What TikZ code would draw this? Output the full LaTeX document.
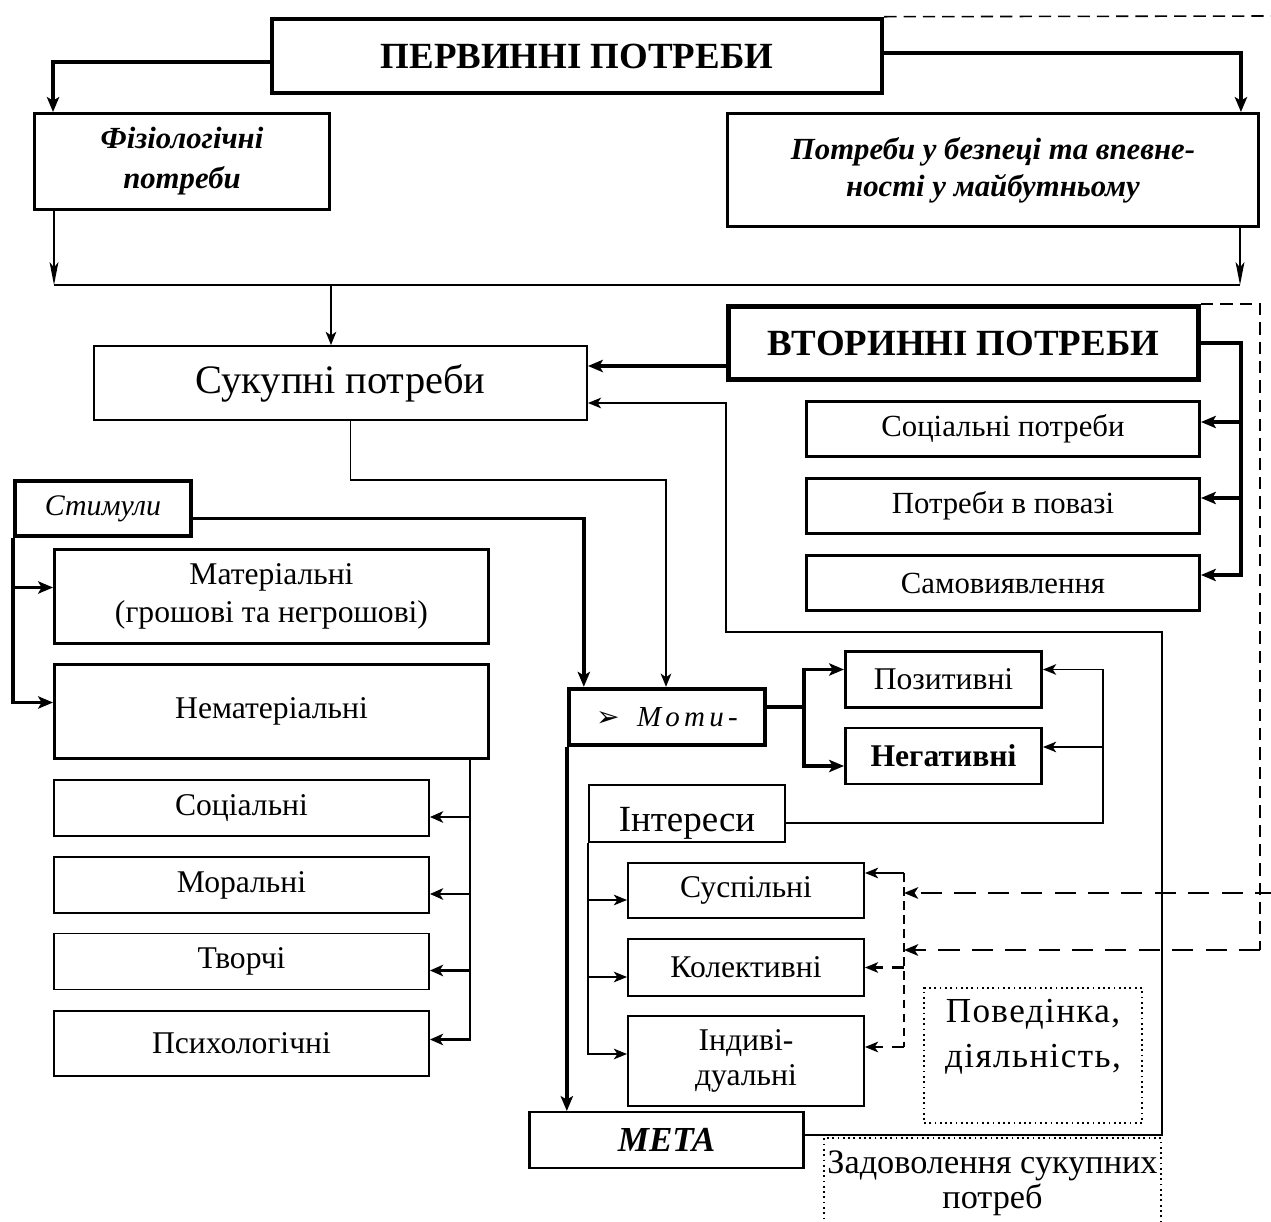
\documentclass[tikz,border=0pt]{standalone}
\usepackage{fontspec}
\setmainfont{Liberation Serif}
\newfontfamily\symfont{DejaVu Sans}
\usepackage{tikz}
\usetikzlibrary{arrows.meta,positioning}

\begin{document}
\begin{tikzpicture}[x=0.02cm, y=-0.02cm,
    headbox/.style={rectangle, draw, line width=2.6pt, inner sep=1pt, align=center, font=\bfseries\fontsize{21}{24}\selectfont},
    topbox/.style={rectangle, draw, line width=1.7pt, inner sep=1pt, align=center, font=\bfseries\itshape\fontsize{17.5}{21}\selectfont},
    medbox/.style={rectangle, draw, line width=1.7pt, inner sep=1pt, align=center, font=\fontsize{18}{21.6}\selectfont},
    thinbox/.style={rectangle, draw, line width=1.1pt, inner sep=1pt, align=center, font=\fontsize{18}{20}\selectfont},
    dotbox/.style={rectangle, draw, line width=1pt, dotted, inner sep=1pt, align=center},
    bigarrow/.style={-{Stealth[length=8.5pt, width=7pt, inset=2pt]}, line width=2.2pt},
    bigline/.style={line width=2.2pt},
    medarrow/.style={-{Stealth[length=7.5pt, width=6.5pt, inset=2pt]}, line width=1.6pt},
    thinarrow/.style={-{Stealth[length=7.5pt, width=6pt, inset=2pt]}, line width=1pt},
    busarrow/.style={-{Stealth[length=7.5pt, width=6pt, inset=2pt]}, line width=1.2pt},
    longarrow/.style={-{Stealth[length=13pt, width=5pt, inset=3pt]}, line width=1.2pt},
    thindash/.style={line width=0.9pt, dash pattern=on 7pt off 4pt},
    thickdash/.style={-{Stealth[length=8pt, width=6.5pt, inset=2pt]}, line width=1.6pt, dash pattern=on 12pt off 7pt},
    busdash/.style={line width=1pt, dash pattern=on 5pt off 3pt},
    smalldash/.style={-{Stealth[length=7.5pt, width=6pt, inset=2pt]}, line width=1.2pt, dash pattern=on 7pt off 5pt}
]
    \useasboundingbox (0,0) rectangle (1271,1222);

    % Primary needs
    \node[headbox, minimum width=12.2cm, minimum height=1.48cm] (perv) at (577,56) {ПЕРВИННІ ПОТРЕБИ};
    \node[topbox, font=\bfseries\itshape\fontsize{17.5}{22.8}\selectfont, minimum width=5.9cm, minimum height=1.92cm] (fiz) at (182,161.5) {Фізіологічні\\потреби};
    \node[topbox, minimum width=10.62cm, minimum height=2.26cm] (bezp) at (993,170) {Потреби у безпеці та впевне-\\ності у майбутньому};

    % Total needs
    \node[thinbox, font=\fontsize{23}{26}\selectfont, minimum width=9.86cm, minimum height=1.48cm] (sukup) at (340.5,383) {Сукупні потреби};

    % Secondary needs
    \node[headbox, line width=2.8pt, minimum width=9.4cm, minimum height=1.46cm] (vtor) at (963.5,343) {ВТОРИННІ ПОТРЕБИ};
    \node[medbox, font=\fontsize{17.5}{20}\selectfont, minimum width=7.86cm, minimum height=1.1cm] (socp) at (1003,429) {Соціальні потреби};
    \node[medbox, font=\fontsize{17.5}{20}\selectfont, minimum width=7.86cm, minimum height=1.1cm] (povaz) at (1003,506) {Потреби в повазі};
    \node[medbox, font=\fontsize{17.5}{20}\selectfont, minimum width=7.86cm, minimum height=1.1cm] (samov) at (1003,583) {Самовиявлення};

    % Stimuli
    \node[medbox, line width=2.3pt, font=\itshape\fontsize{17}{20}\selectfont, minimum width=3.52cm, minimum height=1.1cm] (stym) at (103,508.5) {Стимули};
    \node[medbox, minimum width=8.68cm, minimum height=1.88cm] (mater) at (271.5,596.5) {Матеріальні\\(грошові та негрошові)};
    \node[medbox, minimum width=8.68cm, minimum height=1.88cm] (nemat) at (271.5,711.5) {Нематеріальні};
    \node[thinbox, minimum width=7.5cm, minimum height=1.12cm] (soc) at (241.5,808) {Соціальні};
    \node[thinbox, minimum width=7.5cm, minimum height=1.12cm] (moral) at (241.5,885) {Моральні};
    \node[thinbox, minimum width=7.5cm, minimum height=1.12cm] (tvor) at (241.5,961.5) {Творчі};
    \node[thinbox, minimum width=7.5cm, minimum height=1.3cm] (psych) at (241.5,1043.5) {Психологічні};

    % Motives
    \node[medbox, line width=2.5pt, font=\itshape\fontsize{16.5}{19}\selectfont, minimum width=3.92cm, minimum height=1.12cm] (motiv) at (667,717) {{\symfont\upshape\fontsize{16}{18}\selectfont ➢}\hspace{10pt}{\addfontfeature{LetterSpace=15}Моти-}};
    \node[medbox, minimum width=3.92cm, minimum height=1.12cm] (poz) at (943.5,679.5) {Позитивні};
    \node[medbox, font=\bfseries\fontsize{18}{21}\selectfont, minimum width=3.92cm, minimum height=1.12cm] (neg) at (943.5,756) {Негативні};

    % Interests
    \node[thinbox, line width=0.9pt, font=\fontsize{21}{24}\selectfont, text height=21pt, text depth=0pt, minimum width=3.93cm, minimum height=1.15cm] (inter) at (687,813.5) {Інтереси};
    \node[thinbox, minimum width=4.72cm, minimum height=1.1cm] (susp) at (746,890.5) {Суспільні};
    \node[thinbox, minimum width=4.72cm, minimum height=1.14cm] (kolekt) at (746,967.5) {Колективні};
    \node[thinbox, minimum width=4.72cm, minimum height=1.8cm] (indyv) at (746,1061) {Індиві-\\дуальні};

    % Goal and result
    \node[thinbox, line width=1.4pt, font=\bfseries\itshape\fontsize{20}{23}\selectfont, minimum width=5.48cm, minimum height=1.11cm] (meta) at (666.5,1140) {МЕТА};
    \node[dotbox, font=\fontsize{20}{25.6}\selectfont\addfontfeature{LetterSpace=4}, text depth=25pt, minimum width=4.36cm, minimum height=2.7cm] (poved) at (1033,1055.5) {Поведінка,\\діяльність,};
    \node[dotbox, font=\fontsize{19.5}{20}\selectfont, minimum width=6.74cm, minimum height=1.8cm] (zadov) at (992.5,1183) {Задоволення сукупних\\потреб};

    % Junctions
    \coordinate (busL) at (54,285);
    \coordinate (busR) at (1240,285);
    \coordinate (busS) at (331,285);
    \coordinate (metR) at (1162,632);
    \coordinate (metL) at (726,632);
    \coordinate (sukM) at (666,480);
    \coordinate (motJ) at (804,707);
    \coordinate (vtorL) at ([shift={(0,23)}]vtor.west);
    \coordinate (dashT) at (904,873);
    \coordinate (dashB) at (904,1047);
    \coordinate (edgeT) at (1276,16);
    \coordinate (edgeB) at (1276,893);
    \coordinate (vtorD) at (1260,950);

    % Arrows - primary needs
    \draw[bigarrow] ([shift={(0,6)}]perv.west) -| ([shift={(20,0)}]fiz.north west);
    \draw[bigarrow] ([shift={(0,-3)}]perv.east) -| ([shift={(-19,0)}]bezp.north east);
    \draw[longarrow] (busL |- fiz.south) -- (busL);
    \draw[longarrow] (busR |- bezp.south) -- (busR);
    \draw[line width=1.2pt] (busL) -- (busR);
    \draw[thinarrow] (busS) -- (busS |- sukup.north);

    % Arrows - secondary needs
    \draw[bigarrow] (vtorL) -- (sukup.east |- vtorL);
    \draw[bigarrow] (vtor.east) -| ([shift={(40,-8)}]samov.east) -- ([shift={(0,-8)}]samov.east);
    \draw[bigarrow] ([shift={(40,-7)}]socp.east) -- ([shift={(0,-7)}]socp.east);
    \draw[bigarrow] ([shift={(40,-8)}]povaz.east) -- ([shift={(0,-8)}]povaz.east);

    % Arrows - goal back to total needs, total needs to motives
    \draw[thinarrow] ([shift={(0,-5)}]meta.east) -| (metR) -- (metL) |- ([shift={(0,20)}]sukup.east);
    \draw[thinarrow] ([shift={(10,0)}]sukup.south) |- (sukM) -- (sukM |- motiv.north);

    % Arrows - stimuli
    \draw[bigarrow] ([shift={(0,10)}]stym.east) -| ([shift={(17,0)}]motiv.north west);
    \draw[bigarrow] (stym.south west) |- ([shift={(0,-9)}]nemat.west);
    \draw[bigarrow] ([shift={(-38,-9)}]mater.west) -- ([shift={(0,-9)}]mater.west);
    \draw[medarrow] ([shift={(-20,0)}]nemat.south east) |- ([shift={(0,-4)}]psych.east);
    \draw[medarrow] ([shift={(39,9)}]soc.east) -- ([shift={(0,9)}]soc.east);
    \draw[medarrow] ([shift={(39,9)}]moral.east) -- ([shift={(0,9)}]moral.east);
    \draw[medarrow] ([shift={(39,9)}]tvor.east) -- ([shift={(0,9)}]tvor.east);

    % Arrows - motives
    \draw[bigline] ([shift={(0,-10)}]motiv.east) -- (motJ);
    \draw[bigarrow] (motJ) |- ([shift={(0,-10)}]poz.west);
    \draw[bigarrow] (motJ) |- ([shift={(0,10)}]neg.west);
    \draw[bigarrow] (motiv.south west) -- (motiv.south west |- meta.north);

    % Arrows - interests
    \draw[thinarrow] ([shift={(0,9.5)}]inter.east) -| ([shift={(60,-10)}]poz.east) -- ([shift={(0,-10)}]poz.east);
    \draw[thinarrow] ([shift={(60,-9)}]neg.east) -- ([shift={(0,-9)}]neg.east);
    \draw[busarrow] (inter.south west) |- ([shift={(0,-7)}]indyv.west);
    \draw[busarrow] ([shift={(-39,9.5)}]susp.west) -- ([shift={(0,9.5)}]susp.west);
    \draw[busarrow] ([shift={(-39,9.5)}]kolekt.west) -- ([shift={(0,9.5)}]kolekt.west);

    % Dashed links
    \draw[thinarrow] (dashT) -- (dashT -| susp.east);
    \draw[busdash] (dashT) -- (dashB);
    \draw[smalldash] (dashB) -- (dashB -| indyv.east);
    \draw[smalldash] (dashT |- kolekt.east) -- (kolekt.east);
    \draw[thindash] (perv.north east) -- (edgeT) -- (edgeB);
    \draw[thickdash] (edgeB) -- (dashT |- edgeB);
    \draw[thindash] (vtor.north east) -| (vtorD);
    \draw[thickdash] (vtorD) -- (dashT |- vtorD);
\end{tikzpicture}
\end{document}
